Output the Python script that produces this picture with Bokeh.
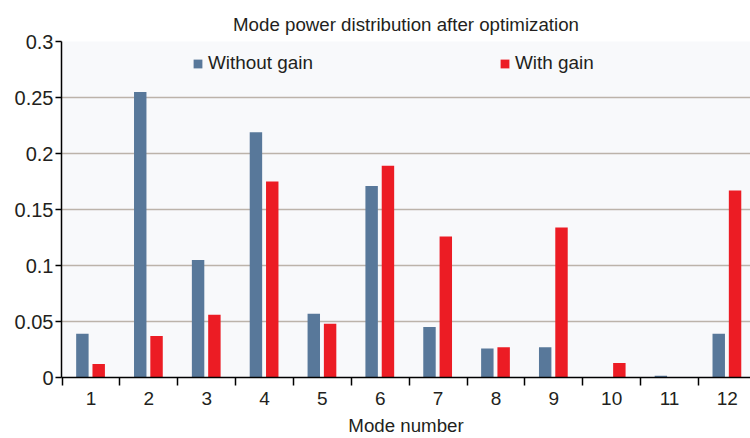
from bokeh.plotting import figure
from bokeh.models import (ColumnDataSource, Range1d, FixedTicker, Legend, LegendItem)
from bokeh.transform import dodge
from bokeh.embed import file_html
from bokeh.resources import INLINE

modes = [1, 2, 3, 4, 5, 6, 7, 8, 9, 10, 11, 12]
mode_labels = ["1", "2", "3", "4", "5", "6", "7", "8", "9", "10", "11", "12"]
without_gain = [0.039, 0.255, 0.105, 0.219, 0.057, 0.171, 0.045, 0.026, 0.027, 0.0, 0.0015, 0.039]
with_gain = [0.012, 0.037, 0.056, 0.175, 0.048, 0.189, 0.126, 0.027, 0.134, 0.013, 0.0, 0.167]
y_ticks = [0, 0.05, 0.1, 0.15, 0.2, 0.25, 0.3]
y_tick_labels = ["0", "0.05", "0.1", "0.15", "0.2", "0.25", "0.3"]
series_names = ["Without gain", "With gain"]
title_text = "Mode power distribution after optimization"
x_title = "Mode number"

FONT = "Liberation Sans"
TXT = "#231f20"
BLUE = "#58789a"
RED = "#ec1c24"

src = ColumnDataSource(dict(mode=modes, wo=without_gain, w=with_gain))

p = figure(width=750, height=438, output_backend="svg", toolbar_location=None,
           x_range=Range1d(0.49, 12.40), y_range=Range1d(0, 0.3),
           min_border_left=61, min_border_right=0, min_border_top=41, min_border_bottom=58,
           background_fill_color="#f8f9fb", border_fill_color="white")
p.outline_line_color = None

p.title.text = title_text
p.title.align = "center"
p.title.vertical_align = "top"
p.title.text_font = FONT
p.title.text_font_size = "18.7px"
p.title.text_font_style = "normal"
p.title.text_color = TXT
p.title.standoff = 10

r1 = p.vbar(x=dodge("mode", -0.149), top="wo", width=0.215, source=src,
            fill_color=BLUE, line_color=None)
r2 = p.vbar(x=dodge("mode", 0.133), top="w", width=0.215, source=src,
            fill_color=RED, line_color=None)

# x axis
xa = p.xaxis[0]
xa.ticker = FixedTicker(ticks=modes, minor_ticks=[m + 0.5 for m in [0] + modes])
xa.major_label_overrides = {m: l for m, l in zip(modes, mode_labels)}
xa.major_tick_out = 0
xa.major_tick_in = 0
xa.minor_tick_out = 8
xa.minor_tick_in = 0
xa.minor_tick_line_color = "black"
xa.minor_tick_line_width = 1.5
xa.axis_line_color = "black"
xa.axis_line_width = 1.5
xa.major_label_standoff = 6
xa.major_label_text_font = FONT
xa.major_label_text_font_size = "19px"
xa.major_label_text_color = TXT
xa.axis_label = x_title
xa.axis_label_text_font = FONT
xa.axis_label_text_font_size = "18.7px"
xa.axis_label_text_font_style = "normal"
xa.axis_label_text_color = TXT
xa.axis_label_standoff = 7

# y axis
ya = p.yaxis[0]
ya.ticker = FixedTicker(ticks=y_ticks)
ya.major_label_overrides = {t: l for t, l in zip(y_ticks, y_tick_labels)}
ya.major_tick_out = 6
ya.major_tick_in = 0
ya.minor_tick_out = 0
ya.minor_tick_in = 0
ya.major_tick_line_color = "black"
ya.major_tick_line_width = 1.5
ya.axis_line_color = "black"
ya.axis_line_width = 1.5
ya.major_label_standoff = 2
ya.major_label_text_font = FONT
ya.major_label_text_font_size = "20px"
ya.major_label_text_color = TXT

p.xgrid.grid_line_color = None
p.ygrid.grid_line_color = "#bcb3aa"
p.ygrid.grid_line_width = 1.5

common = dict(orientation="horizontal", border_line_alpha=0, background_fill_alpha=0,
              padding=0, margin=0, spacing=0, glyph_width=11, glyph_height=11,
              label_standoff=5, label_text_font=FONT, label_text_font_size="18.9px",
              label_text_color=TXT, label_height=21)
leg1 = Legend(items=[LegendItem(label=series_names[0], renderers=[r1])],
              location=(131, 303), **common)
leg2 = Legend(items=[LegendItem(label=series_names[1], renderers=[r2])],
              location=(438, 303), **common)
p.add_layout(leg1)
p.add_layout(leg2)

open("out.html", "w").write(file_html(p, INLINE))
